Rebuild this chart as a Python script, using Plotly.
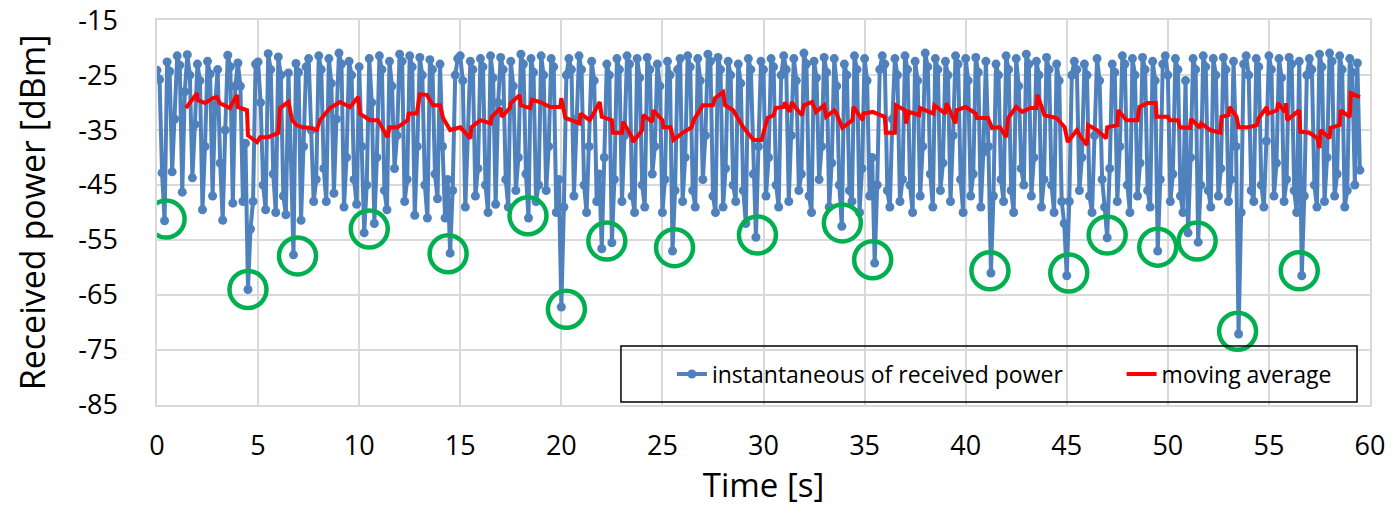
import numpy as np
import plotly.graph_objects as go

# ---------------- data ----------------
sample_step_s = 0.125

# instantaneous received power [dBm], 8 samples per second
power_dbm = [
    -24.1, -25.8, -42.8, -51.5, -22.6, -24.3, -42.6, -33.0,   # 0 s
    -21.5, -23.2, -46.3, -28.0, -21.3, -25.0, -43.7, -34.0,   # 1 s
    -23.0, -26.0, -49.5, -38.0, -22.5, -24.8, -47.0, -30.5,   # 2 s
    -24.0, -41.0, -51.4, -35.0, -21.4, -23.5, -48.3, -27.0,   # 3 s
    -22.8, -27.0, -48.0, -37.4, -64.0, -53.0, -48.0, -23.0,   # 4 s
    -22.6, -30.0, -45.0, -49.5, -21.1, -24.0, -43.0, -50.0,   # 5 s
    -21.7, -25.0, -47.0, -50.4, -24.6, -40.0, -57.7, -22.9,   # 6 s
    -24.5, -51.4, -38.0, -23.5, -22.0, -35.0, -48.0, -44.0,   # 7 s
    -21.5, -24.0, -42.0, -48.0, -22.0, -26.5, -46.5, -33.0,   # 8 s
    -21.0, -23.0, -49.0, -40.0, -22.5, -25.0, -44.0, -48.5,   # 9 s
    -23.5, -38.0, -53.7, -45.0, -22.0, -30.0, -52.0, -40.0,   # 10 s
    -21.5, -24.0, -46.0, -49.5, -22.5, -27.0, -42.0, -36.0,   # 11 s
    -21.2, -22.5, -48.0, -44.0, -21.5, -23.5, -50.5, -38.0,   # 12 s
    -21.8, -25.0, -45.0, -51.0, -22.2, -24.0, -43.0, -47.5,   # 13 s
    -23.0, -38.0, -51.0, -44.0, -57.4, -46.0, -25.0, -22.0,   # 14 s
    -21.5, -26.0, -49.0, -36.0, -22.5, -24.0, -47.0, -42.0,   # 15 s
    -22.0, -23.5, -45.0, -50.0, -21.5, -25.5, -48.5, -30.0,   # 16 s
    -21.8, -24.0, -44.0, -49.0, -22.5, -27.0, -46.0, -40.0,   # 17 s
    -21.2, -23.0, -43.0, -51.0, -22.0, -24.5, -48.0, -45.0,   # 18 s
    -21.5, -25.0, -46.0, -38.0, -22.0, -23.5, -50.0, -44.0,   # 19 s
    -67.2, -49.0, -25.0, -22.0, -24.0, -47.0, -33.0, -21.5,   # 20 s
    -24.0, -45.0, -50.0, -38.0, -22.5, -26.0, -48.0, -43.0,   # 21 s
    -56.6, -40.0, -23.0, -25.0, -55.5, -44.0, -22.0, -24.0,   # 22 s
    -48.0, -36.0, -21.5, -23.0, -47.0, -50.0, -22.0, -25.5,   # 23 s
    -45.0, -49.0, -21.8, -24.0, -43.0, -38.0, -23.0, -27.0,   # 24 s
    -50.0, -44.0, -22.5, -25.0, -57.0, -46.0, -24.0, -22.0,   # 25 s
    -48.0, -40.0, -21.5, -23.5, -46.0, -49.0, -22.0, -26.0,   # 26 s
    -44.0, -36.0, -21.2, -22.5, -47.0, -50.0, -21.8, -24.0,   # 27 s
    -49.0, -42.0, -22.5, -25.0, -45.0, -48.0, -23.0, -26.5,   # 28 s
    -46.0, -52.0, -22.0, -24.0, -43.0, -54.5, -38.0, -22.5,   # 29 s
    -24.0, -47.0, -40.0, -22.0, -23.5, -45.0, -49.0, -25.0,   # 30 s
    -21.5, -24.0, -48.0, -36.0, -22.0, -26.0, -46.0, -43.0,   # 31 s
    -21.0, -23.0, -47.0, -50.0, -22.5, -25.5, -44.0, -38.0,   # 32 s
    -21.8, -24.5, -49.0, -41.0, -22.0, -27.0, -45.0, -52.5,   # 33 s
    -23.0, -25.0, -46.0, -48.0, -21.5, -24.0, -50.0, -42.0,   # 34 s
    -22.0, -26.0, -47.0, -40.0, -59.2, -45.0, -24.0, -21.5,   # 35 s
    -23.0, -46.0, -49.0, -33.0, -22.0, -25.0, -48.0, -44.0,   # 36 s
    -21.5, -24.0, -45.0, -50.0, -22.5, -26.0, -47.0, -38.0,   # 37 s
    -21.0, -23.5, -43.0, -49.0, -22.0, -24.0, -46.0, -41.0,   # 38 s
    -22.5, -25.0, -48.0, -36.0, -21.5, -23.0, -44.0, -50.0,   # 39 s
    -22.0, -26.0, -47.0, -43.0, -21.8, -24.5, -49.0, -39.0,   # 40 s
    -22.5, -38.0, -61.0, -47.0, -23.0, -25.0, -44.0, -48.0,   # 41 s
    -21.5, -24.0, -46.0, -50.0, -22.0, -27.0, -42.0, -45.0,   # 42 s
    -21.2, -23.0, -47.0, -40.0, -22.5, -25.0, -49.0, -44.0,   # 43 s
    -21.8, -24.0, -45.0, -50.0, -23.0, -26.0, -48.0, -52.0,   # 44 s
    -61.5, -48.0, -25.0, -22.5, -24.0, -46.0, -40.0, -23.0,   # 45 s
    -25.0, -47.0, -50.0, -36.0, -22.0, -26.0, -44.0, -49.0,   # 46 s
    -54.6, -42.0, -23.0, -24.5, -48.0, -38.0, -21.5, -23.0,   # 47 s
    -45.0, -50.0, -22.0, -25.0, -47.0, -41.0, -21.8, -24.0,   # 48 s
    -46.0, -49.0, -22.5, -26.0, -57.0, -44.0, -23.0, -21.5,   # 49 s
    -25.0, -48.0, -43.0, -22.0, -24.0, -47.0, -50.0, -26.0,   # 50 s
    -53.7, -40.0, -22.0, -24.0, -55.4, -45.0, -21.5, -23.5,   # 51 s
    -46.0, -49.0, -22.0, -25.0, -47.0, -42.0, -21.8, -24.0,   # 52 s
    -48.0, -44.0, -22.5, -38.0, -72.1, -50.0, -23.0, -21.5,   # 53 s
    -25.0, -46.0, -48.0, -22.0, -23.5, -45.0, -49.0, -37.0,   # 54 s
    -21.5, -24.0, -47.0, -41.0, -22.0, -25.5, -48.0, -44.0,   # 55 s
    -21.8, -23.0, -46.0, -50.0, -22.5, -61.5, -47.0, -25.0,   # 56 s
    -22.0, -24.0, -45.0, -49.0, -21.2, -23.5, -48.0, -40.0,   # 57 s
    -21.0, -22.5, -47.0, -43.0, -21.5, -24.0, -49.0, -46.0,   # 58 s
    -22.0, -24.5, -45.0, -22.8, -42.3,                        # 59 s
]
time_s = np.arange(len(power_dbm)) * sample_step_s

# moving average [dBm]
avg_time_s = [1.43, 1.98, 2.0, 2.37, 2.77, 2.97, 3.1, 3.6, 3.96, 4.0, 4.45, 4.5, 4.95, 5.1, 5.5, 6.0, 6.08,
              6.5, 6.68, 6.9, 7.2, 7.57, 7.9, 8.06, 8.56, 9.05, 9.55, 9.95, 10.04, 10.53, 10.93, 11.2,
              11.4, 11.5, 11.9, 12.4, 12.45, 12.85, 13.0, 13.35, 13.65, 14.0, 14.15, 14.5, 15.0, 15.5,
              15.55, 16.0, 16.5, 16.55, 17.0, 17.05, 17.45, 17.5, 17.95, 18.0, 18.45, 18.55, 18.95,
              19.45, 19.95, 20.0, 20.2, 20.5, 20.9, 20.95, 21.4, 21.55, 21.9, 22.0, 22.5, 22.55, 23.0,
              23.05, 23.5, 23.55, 24.0, 24.05, 24.5, 24.55, 25.0, 25.05, 25.4, 25.55, 26.0, 26.45,
              26.55, 27.0, 27.5, 27.6, 28.0, 28.1, 28.5, 29.0, 29.5, 29.9, 30.2, 30.5, 30.6, 31.0,
              31.05, 31.3, 31.4, 31.6, 31.9, 32.0, 32.4, 32.6, 33.0, 33.1, 33.5, 33.6, 33.9, 34.4,
              34.45, 34.9, 34.95, 35.4, 36.0, 36.05, 36.5, 36.55, 37.0, 37.05, 37.2, 37.7, 37.75,
              38.4, 38.45, 39.0, 39.05, 39.5, 39.55, 40.0, 40.5, 40.55, 41.1, 41.3, 41.7, 42.0, 42.1,
              42.5, 42.8, 43.2, 43.5, 43.55, 43.9, 44.5, 44.9, 45.05, 45.5, 45.7, 46.0, 46.05, 46.5,
              46.95, 47.0, 47.5, 47.55, 47.95, 48.5, 48.6, 49.0, 49.4, 49.45, 50.0, 50.1, 50.5, 50.6,
              51.1, 51.15, 51.6, 51.65, 52.1, 52.6, 52.65, 53.0, 53.05, 53.4, 53.5, 54.0, 54.4, 54.5,
              54.9, 54.95, 55.4, 55.45, 55.8, 55.85, 55.9, 56.5, 56.55, 57.0, 57.4, 57.5, 57.55, 58.0,
              58.05, 58.5, 58.55, 59.0, 59.05, 59.5]
avg_dbm = [-31.0, -28.3, -29.5, -30.1, -29.2, -29.0, -30.1, -31.0, -28.6, -30.8, -31.4, -36.0, -37.2, -36.3,
           -36.3, -35.5, -31.0, -29.9, -33.2, -34.1, -34.5, -34.6, -35.0, -33.2, -31.0, -29.9, -30.8,
           -29.0, -32.0, -33.2, -33.2, -35.0, -36.3, -34.5, -34.5, -33.2, -32.0, -32.0, -28.5, -28.6,
           -30.5, -30.5, -32.8, -35.0, -34.5, -36.5, -34.5, -33.2, -33.8, -32.6, -31.0, -32.6, -31.0,
           -30.1, -28.6, -30.5, -31.0, -29.5, -29.9, -30.8, -30.8, -29.2, -32.8, -33.2, -33.8, -32.0,
           -33.2, -32.3, -29.9, -32.6, -33.2, -35.5, -35.5, -33.5, -36.3, -37.2, -35.0, -32.3, -33.5,
           -31.4, -33.2, -34.5, -34.5, -36.8, -35.5, -34.5, -33.2, -30.5, -30.5, -29.2, -28.1, -30.5,
           -31.4, -34.5, -36.8, -36.8, -32.8, -32.3, -31.0, -30.8, -30.0, -31.7, -29.9, -31.0, -32.3,
           -30.5, -29.9, -31.7, -30.5, -32.6, -31.4, -31.9, -34.6, -33.2, -30.8, -33.2, -32.0, -31.7,
           -32.6, -35.5, -35.5, -30.5, -31.4, -33.8, -31.7, -32.3, -31.0, -32.0, -30.5, -32.0, -30.1,
           -33.8, -31.4, -30.8, -32.0, -32.8, -32.8, -34.6, -34.5, -36.3, -32.8, -30.8, -31.7, -31.0,
           -31.0, -28.6, -32.3, -32.8, -34.5, -37.2, -35.0, -36.3, -37.7, -34.1, -35.0, -36.5, -34.5,
           -34.1, -31.4, -33.2, -33.2, -30.8, -30.1, -30.1, -32.6, -32.6, -33.2, -33.2, -34.5, -34.6,
           -33.0, -34.6, -33.8, -35.0, -35.5, -32.6, -32.3, -30.8, -32.6, -34.5, -34.5, -34.1, -32.8,
           -30.8, -32.0, -31.4, -30.1, -31.7, -30.1, -33.2, -31.4, -35.3, -35.5, -36.5, -38.3, -35.0,
           -36.5, -34.6, -34.1, -31.4, -32.6, -28.3, -29.0]

# highlighted deep fades (green circles)
fade_time_s = [0.45, 4.5, 6.95, 10.5, 14.4, 18.35, 20.25, 22.25, 25.6, 29.7,
               33.9, 35.4, 41.2, 45.1, 47.0, 49.5, 51.45, 53.45, 56.5]
fade_dbm = [-51.2, -64.0, -57.9, -53.0, -57.5, -50.6, -67.6, -55.2, -56.4, -54.1,
            -51.9, -58.6, -60.6, -61.0, -54.1, -56.3, -55.2, -71.6, -60.6]

x_ticks = list(range(0, 61, 5))
y_ticks = list(range(-85, -14, 10))

# ---------------- figure ----------------
FONT = "Open Sans"
BLUE = "rgb(79,129,189)"
RED = "rgb(255,0,0)"
GREEN = "rgb(0,176,80)"
GRID = "rgb(217,217,217)"
PAD = "\u00a0" * 9   # visual spacing between the two legend entries

fig = go.Figure()
fig.add_trace(go.Scatter(
    x=time_s, y=power_dbm, mode="lines+markers",
    name="instantaneous of received power" + PAD,
    line=dict(color=BLUE, width=4),
    marker=dict(color=BLUE, size=9),
))
fig.add_trace(go.Scatter(
    x=avg_time_s, y=avg_dbm, mode="lines", name="moving average",
    line=dict(color=RED, width=4),
))
fig.add_trace(go.Scatter(
    x=fade_time_s, y=fade_dbm, mode="markers", showlegend=False,
    marker=dict(symbol="circle-open", size=37, color=GREEN, line=dict(width=4.5, color=GREEN)),
    hoverinfo="skip",
))

# legend frame (transparent, gridlines show through as in the reference)
fig.add_shape(type="rect", xref="paper", yref="paper",
              x0=0.3825, x1=0.9893, y0=0.0078, y1=0.1532,
              line=dict(color="black", width=1.5), fillcolor="rgba(0,0,0,0)", layer="above")

fig.update_layout(
    width=1392, height=507,
    margin=dict(l=157, r=22, t=20, b=102, autoexpand=False),
    paper_bgcolor="white", plot_bgcolor="white",
    font=dict(family=FONT, color="black"),
    showlegend=True,
    legend=dict(
        orientation="h", x=0.4245, xanchor="left", y=0.0805, yanchor="middle",
        bgcolor="rgba(0,0,0,0)", borderwidth=0,
        font=dict(family=FONT, size=23, color="black"),
    ),
)
fig.update_xaxes(
    range=[0, 60], tickvals=x_ticks, ticktext=[str(v) for v in x_ticks],
    showgrid=True, gridcolor=GRID, gridwidth=1.5,
    showline=True, linecolor=GRID, linewidth=1.5, mirror=True,
    zeroline=False, ticks="", ticklabelstandoff=16, automargin=False,
    ticklabeloverflow="allow",
    tickfont=dict(family=FONT, size=27, color="black"),
    title=dict(text="Time [s]", font=dict(family=FONT, size=33, color="black"), standoff=12),
)
fig.update_yaxes(
    range=[-85.02, -14.98], tickvals=y_ticks, ticktext=[str(v) for v in y_ticks],
    showgrid=True, gridcolor=GRID, gridwidth=1.5,
    showline=True, linecolor=GRID, linewidth=1.5, mirror=True,
    zeroline=False, ticks="", ticklabelstandoff=32, automargin=False,
    ticklabeloverflow="allow",
    tickfont=dict(family=FONT, size=27, color="black"),
    title=dict(text="Received power [dBm]", font=dict(family=FONT, size=34, color="black"), standoff=22),
)

fig.write_html("out.html")
